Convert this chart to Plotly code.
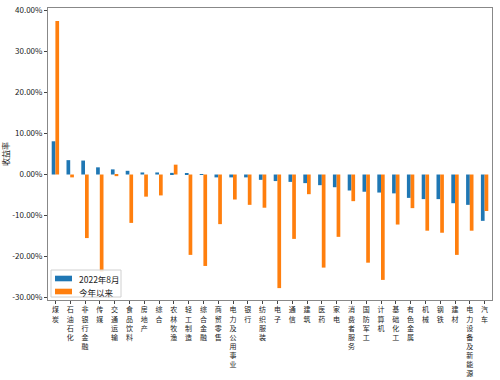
import plotly.graph_objects as go

categories = ["煤炭", "石油石化", "非银行金融", "传媒", "交通运输", "食品饮料", "房地产", "综合",
              "农林牧渔", "轻工制造", "综合金融", "商贸零售", "电力及公用事业", "银行", "纺织服装",
              "电子", "通信", "建筑", "医药", "家电", "消费者服务", "国防军工", "计算机", "基础化工",
              "有色金属", "机械", "钢铁", "建材", "电力设备及新能源", "汽车"]

aug_2022 = [8.1, 3.5, 3.4, 1.75, 1.25, 0.9, 0.5, 0.5, 0.4, 0.2, -0.1, -0.7, -0.7, -0.7, -1.3,
            -1.6, -1.8, -2.1, -2.6, -3.1, -3.9, -4.2, -4.4, -4.6, -5.7, -6.0, -6.0, -7.0, -7.4, -11.3]

ytd = [37.4, -0.7, -15.5, -23.7, -0.4, -11.8, -5.4, -5.1, 2.4, -19.6, -22.3, -12.1, -6.1, -7.4, -8.1,
       -27.7, -15.7, -4.8, -22.7, -15.2, -6.5, -21.5, -25.7, -12.2, -8.2, -13.7, -14.2, -19.6, -13.7, -8.9]

series_names = ["2022年8月", "今年以来"]
series_colors = ["#1f77b4", "#ff7f0e"]

tick_values = [0.4, 0.3, 0.2, 0.1, 0.0, -0.1, -0.2, -0.3]
tick_labels = ["40.00%", "30.00%", "20.00%", "10.00%", "0.00%", "-10.00%", "-20.00%", "-30.00%"]

FONT = "Noto Sans CJK SC"

fig = go.Figure()
fig.add_trace(go.Bar(x=categories, y=[v / 100 for v in aug_2022], name=series_names[0],
                     marker=dict(color=series_colors[0], line=dict(width=0))))
fig.add_trace(go.Bar(x=categories, y=[v / 100 for v in ytd], name=series_names[1],
                     marker=dict(color=series_colors[1], line=dict(width=0))))

# plot area: x 48..492 px, y 8..300 px  -> legend drawn in paper fractions (matplotlib-like compact legend)
PW, PH = 444.0, 292.0
def px(x):
    return (x - 48) / PW
def py(y):
    return (300 - y) / PH

shapes = [
    dict(type="rect", xref="paper", yref="paper", x0=px(51), x1=px(121), y0=py(297), y1=py(270),
         fillcolor="rgba(255,255,255,0.85)", line=dict(color="#d0d0d0", width=1), layer="above"),
]
annotations = []
rows_y = [278.5, 291.5]
for name, color, yc in zip(series_names, series_colors, rows_y):
    shapes.append(dict(type="rect", xref="paper", yref="paper", x0=px(55), x1=px(72),
                       y0=py(yc + 2.8), y1=py(yc - 2.8), fillcolor=color, line=dict(width=0),
                       layer="above"))
    annotations.append(dict(xref="paper", yref="paper", x=px(77), y=py(yc), text=name,
                            showarrow=False, xanchor="left", yanchor="middle",
                            font=dict(family=FONT, size=8.5, color="#222")))

fig.update_layout(
    width=500, height=380,
    margin=dict(l=48, r=8, t=8, b=80),
    paper_bgcolor="white", plot_bgcolor="white",
    font=dict(family=FONT, size=8, color="#222"),
    barmode="group", bargap=0.5, bargroupgap=0,
    showlegend=False,
    shapes=shapes, annotations=annotations,
)

fig.update_xaxes(
    tickvals=categories, ticktext=["<br>".join(c) for c in categories],
    tickangle=0, range=[-0.5, len(categories) - 0.5], automargin=False,
    showline=True, linecolor="#888", linewidth=1, mirror=True,
    ticks="outside", ticklen=3, tickcolor="#444",
    showgrid=False, zeroline=False,
    tickfont=dict(family=FONT, size=7, color="#222"),
)
fig.update_yaxes(
    tickvals=tick_values, ticktext=tick_labels,
    range=[-0.306, 0.406], automargin=False,
    showline=True, linecolor="#888", linewidth=1, mirror=True,
    ticks="outside", ticklen=3, tickcolor="#444",
    showgrid=False, zeroline=False,
    tickfont=dict(family=FONT, size=8, color="#222"),
    title=dict(text="收益率", font=dict(family=FONT, size=8, color="#222"), standoff=4),
)

fig.write_html("out.html", config={"displayModeBar": False},
               post_script="document.body.style.margin='0';")
